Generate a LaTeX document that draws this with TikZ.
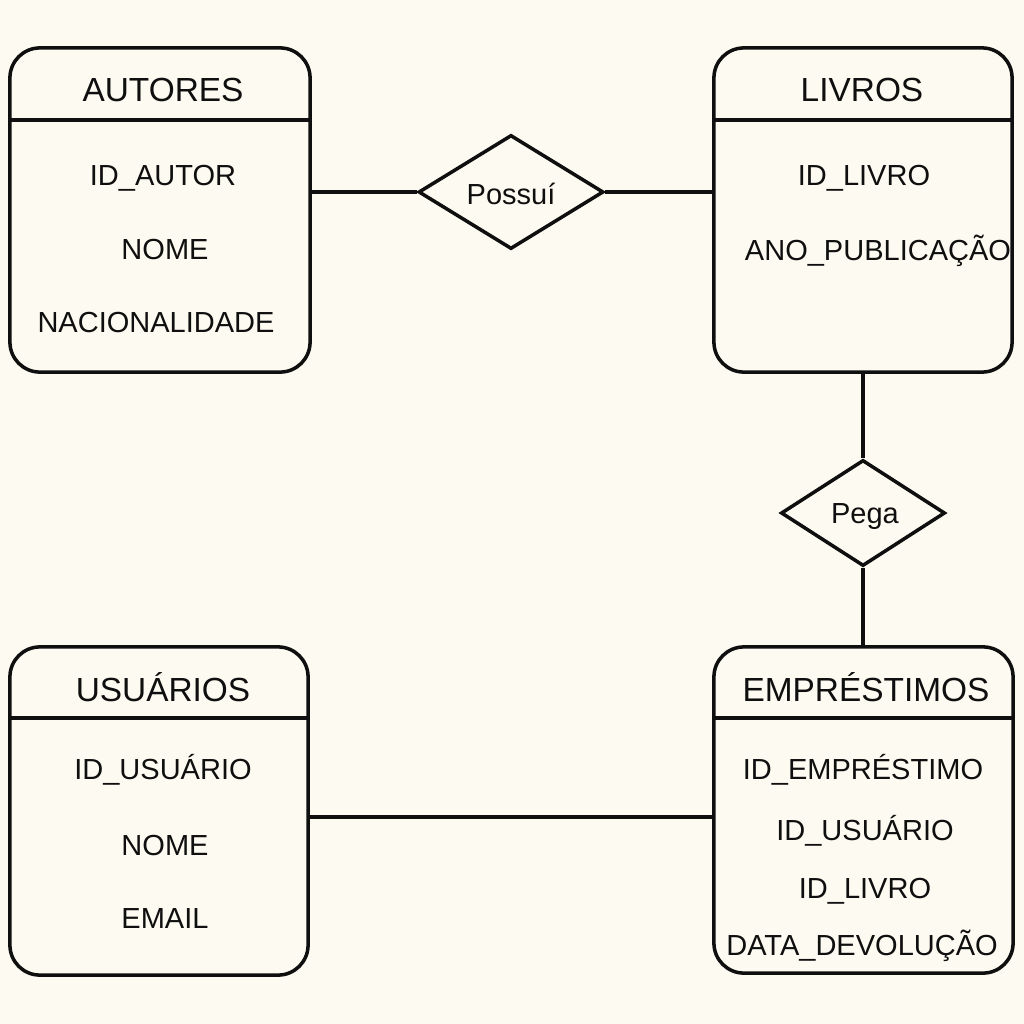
\documentclass[tikz,border=0pt]{standalone}
\usepackage{fontspec}
\setmainfont{Liberation Sans}
\usetikzlibrary{shapes.geometric,calc}
\definecolor{bg}{RGB}{253,251,241}
\definecolor{ink}{RGB}{15,15,15}
\begin{document}
\begin{tikzpicture}[x=0.01cm,y=-0.01cm,
  ent/.style={draw=ink,line width=1pt,rounded corners=0.3cm,inner sep=0pt},
  rel/.style={draw=ink,line width=1pt,diamond,inner sep=0pt},
  hdr/.style={font=\fontsize{9.5pt}{11pt}\selectfont,text=ink,inner sep=0pt},
  att/.style={font=\fontsize{8.25pt}{10pt}\selectfont,text=ink,inner sep=0pt},
  conn/.style={draw=ink,line width=1pt}]
\fill[bg] (0,0) rectangle (1024,1024);
\useasboundingbox (0,0) rectangle (1024,1024);
% entities
\node[ent,minimum width=3.00cm,minimum height=3.24cm] (a) at (160,210) {};
\node[ent,minimum width=2.98cm,minimum height=3.24cm] (l) at (863,210) {};
\node[ent,minimum width=2.98cm,minimum height=3.28cm] (u) at (159,811) {};
\node[ent,minimum width=2.99cm,minimum height=3.26cm] (e) at (863.5,810) {};
% header lines
\foreach \n in {a,l} \draw[conn] ([yshift=-0.74cm]\n.north west) -- ([yshift=-0.74cm]\n.north east);
\foreach \n in {u,e} \draw[conn] ([yshift=-0.73cm]\n.north west) -- ([yshift=-0.73cm]\n.north east);
% relationships
\node[rel,minimum width=1.85cm,minimum height=1.14cm,aspect=1.62] (p) at (511,192) {};
\node[att] (pt) at (511,194) {Possuí};
\node[rel,minimum width=1.64cm,minimum height=1.06cm,aspect=1.55] (g) at (863,513) {};
\node[att] (gt) at (865,517) {Pega};
% texts AUTORES
\node[hdr] (ah) at (163,90) {AUTORES};
\node[att] (a1) at (163,178) {ID\_AUTOR};
\node[att] (a2) at (165,250) {NOME};
\node[att] (a3) at (156,323) {NACIONALIDADE};
% LIVROS
\node[hdr] (lh) at (862,90) {LIVROS};
\node[att] (l1) at (864,178) {ID\_LIVRO};
\node[att] (l2) at (878,251) {ANO\_PUBLICAÇÃO};
% USUARIOS
\node[hdr] (uh) at (163,687) {USUÁRIOS};
\node[att] (u1) at (163,770) {ID\_USUÁRIO};
\node[att] (u2) at (165,846) {NOME};
\node[att] (u3) at (165,919) {EMAIL};
% EMPRESTIMOS
\node[hdr] (eh) at (866,687) {EMPRÉSTIMOS};
\node[att] (e1) at (863,770) {ID\_EMPRÉSTIMO};
\node[att] (e2) at (865,831) {ID\_USUÁRIO};
\node[att] (e3) at (865,891) {ID\_LIVRO};
\node[att] (e4) at (862,946) {DATA\_DEVOLUÇÃO};
% connectors
\draw[conn] (p.west -| a.east) -- (p.west);
\draw[conn] (p.east) -- (p.east -| l.west);
\draw[conn] (l.south) -- (g.north);
\draw[conn] (g.south) -- (g.south |- e.north);
\coordinate (uc) at ([yshift=-0.06cm]u.east);
\draw[conn] (uc) -- (uc -| e.west);
\end{tikzpicture}
\end{document}
